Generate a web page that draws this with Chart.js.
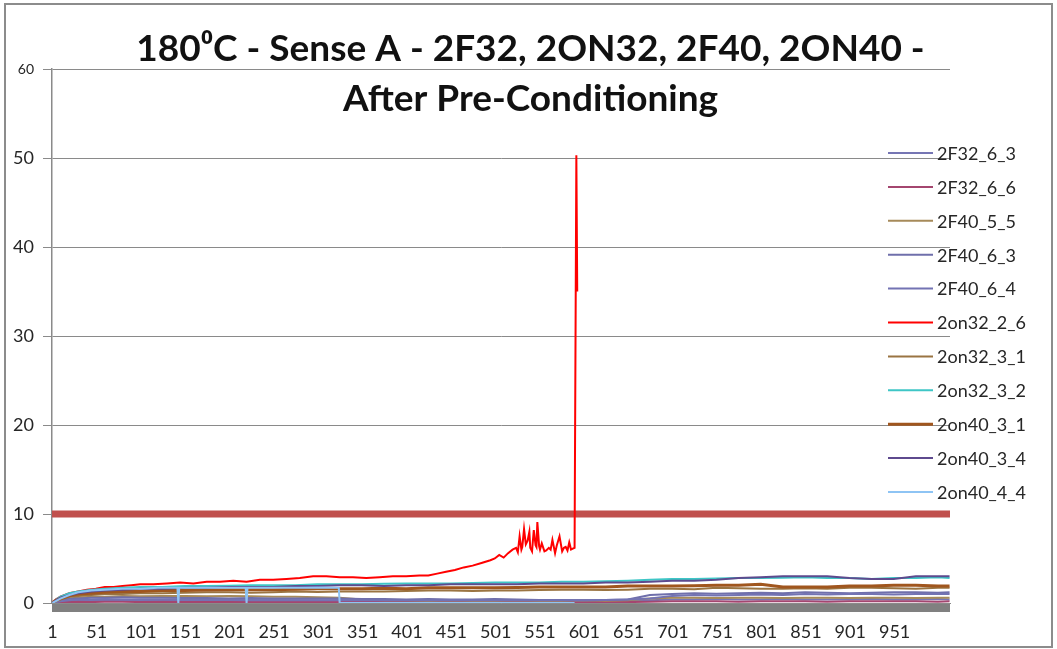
<!DOCTYPE html>
<html>
<head>
<meta charset="utf-8">
<script src="https://cdn.jsdelivr.net/npm/chart.js@4.4.1/dist/chart.umd.min.js"></script>
<style>
  html, body { margin: 0; padding: 0; background: #fff; }
  canvas { display: block; }
</style>
</head>
<body>
<canvas id="senseChart" width="1057" height="649"></canvas>
<script>
// --- data ---
const TITLE_LINES = ['180⁰C - Sense A - 2F32, 2ON32, 2F40, 2ON40 -', 'After Pre-Conditioning'];
const X_TICK_LABELS = [1, 51, 101, 151, 201, 251, 301, 351, 401, 451, 501, 551, 601, 651, 701, 751, 801, 851, 901, 951];
const X_FIRST = 1;
const X_LAST = 1013;
const Y_MIN = 0;
const Y_MAX = 60;
const Y_STEP = 10;
const THRESHOLD = 10;

const SERIES_NAMES = ['2F32_6_3', '2F32_6_6', '2F40_5_5', '2F40_6_3', '2F40_6_4', '2on32_2_6',
                      '2on32_3_1', '2on32_3_2', '2on40_3_1', '2on40_3_4', '2on40_4_4'];
const SERIES_COLORS = ['#7676b4', '#a4466f', '#a68a5a', '#6f6fab', '#7373b3', '#ff0000',
                       '#9a7442', '#3ec6c6', '#a0561e', '#5e4a8e', '#8ec4f4'];
const SERIES_WIDTHS = [2, 2, 2, 2, 2, 2, 2, 2, 3, 2, 2];

// shared sample positions for the low, slowly drifting series
const SAMPLE_X = [1, 5, 10, 20, 30, 45, 60, 80, 100, 125, 150, 175, 200, 225, 250, 275, 300, 325, 350, 375,
                  400, 425, 450, 475, 500, 525, 550, 575, 600, 625, 650, 675, 700, 725, 750, 775, 800, 825, 850, 875,
                  900, 925, 950, 975, 1000, 1013];

const F32_6_3 = [0.0, 0.1, 0.2, 0.25, 0.3, 0.3, 0.35, 0.3, 0.3, 0.35, 0.3, 0.3, 0.3, 0.35, 0.3, 0.3, 0.3, 0.25, 0.25, 0.2,
                 0.25, 0.2, 0.2, 0.25, 0.2, 0.2, 0.2, 0.25, 0.2, 0.2, 0.25, 0.3, 0.4, 0.4, 0.45, 0.4, 0.4, 0.45, 0.4, 0.4,
                 0.4, 0.45, 0.4, 0.4, 0.45, 0.4];
const F32_6_6 = [0.0, 0.05, 0.1, 0.1, 0.15, 0.1, 0.15, 0.15, 0.1, 0.15, 0.1, 0.1, 0.15, 0.1, 0.1, 0.15, 0.1, 0.1, 0.1, 0.15,
                 0.1, 0.1, 0.1, 0.1, 0.15, 0.1, 0.1, 0.1, 0.1, 0.15, 0.1, 0.15, 0.2, 0.2, 0.2, 0.15, 0.2, 0.2, 0.2, 0.15,
                 0.2, 0.2, 0.2, 0.2, 0.15, 0.2];
const F40_5_5 = [0.0, 0.2, 0.3, 0.5, 0.6, 0.7, 0.7, 0.8, 0.75, 0.8, 0.8, 0.75, 0.8, 0.75, 0.7, 0.7, 0.65, 0.6, 0.4, 0.3,
                 0.3, 0.25, 0.3, 0.25, 0.25, 0.3, 0.25, 0.25, 0.3, 0.25, 0.3, 0.5, 0.6, 0.6, 0.55, 0.6, 0.6, 0.55, 0.6, 0.6,
                 0.55, 0.6, 0.6, 0.55, 0.6, 0.6];
const F40_6_3 = [0.0, 0.2, 0.3, 0.5, 0.5, 0.6, 0.6, 0.65, 0.6, 0.6, 0.55, 0.55, 0.5, 0.55, 0.5, 0.5, 0.5, 0.5, 0.45, 0.45,
                 0.4, 0.45, 0.4, 0.4, 0.45, 0.4, 0.35, 0.35, 0.3, 0.35, 0.4, 0.9, 1.0, 1.1, 1.05, 1.1, 1.15, 1.1, 1.2, 1.15,
                 1.1, 1.15, 1.2, 1.2, 1.15, 1.2];
const F40_6_4 = [0.0, 0.1, 0.2, 0.3, 0.4, 0.4, 0.45, 0.4, 0.4, 0.4, 0.4, 0.35, 0.35, 0.3, 0.35, 0.3, 0.3, 0.35, 0.3, 0.3,
                 0.3, 0.3, 0.35, 0.3, 0.3, 0.3, 0.3, 0.3, 0.3, 0.35, 0.4, 0.5, 0.8, 0.9, 0.85, 0.9, 0.95, 0.9, 1.0, 0.95,
                 1.0, 1.0, 0.95, 1.0, 1.0, 1.0];
const ON32_3_1 = [0.0, 0.2, 0.4, 0.7, 0.8, 0.9, 1.0, 1.0, 1.1, 1.1, 1.15, 1.2, 1.2, 1.15, 1.2, 1.3, 1.25, 1.3, 1.3, 1.3,
                  1.35, 1.4, 1.4, 1.35, 1.4, 1.4, 1.45, 1.5, 1.5, 1.45, 1.5, 1.6, 1.6, 1.55, 1.7, 1.65, 1.6, 1.6, 1.65, 1.6,
                  1.7, 1.7, 1.65, 1.6, 1.7, 1.7];
const ON32_3_2 = [0.0, 0.4, 0.7, 1.1, 1.3, 1.5, 1.6, 1.7, 1.8, 1.8, 1.9, 1.9, 1.95, 2.0, 2.0, 2.0, 2.1, 2.1, 2.1, 2.15,
                  2.2, 2.2, 2.2, 2.25, 2.3, 2.3, 2.3, 2.4, 2.4, 2.45, 2.5, 2.6, 2.7, 2.7, 2.75, 2.8, 2.8, 2.85, 2.9, 2.8,
                  2.8, 2.7, 2.8, 2.8, 2.9, 2.8];
const ON40_3_1 = [0.0, 0.3, 0.5, 0.8, 1.0, 1.1, 1.2, 1.3, 1.3, 1.4, 1.4, 1.45, 1.5, 1.5, 1.5, 1.55, 1.6, 1.6, 1.6, 1.65,
                  1.6, 1.7, 1.7, 1.7, 1.7, 1.75, 1.8, 1.8, 1.8, 1.8, 1.9, 1.9, 1.9, 1.95, 2.0, 2.0, 2.1, 1.8, 1.8, 1.8,
                  1.9, 1.9, 2.0, 2.0, 1.9, 1.9];
const ON40_3_4 = [0.0, 0.3, 0.6, 0.9, 1.1, 1.3, 1.4, 1.5, 1.6, 1.6, 1.7, 1.7, 1.8, 1.8, 1.8, 1.9, 1.9, 2.0, 2.0, 1.9,
                  2.0, 2.0, 2.1, 2.1, 2.1, 2.1, 2.2, 2.2, 2.2, 2.3, 2.3, 2.4, 2.5, 2.5, 2.6, 2.8, 2.9, 3.0, 3.0, 3.0,
                  2.8, 2.7, 2.7, 3.0, 3.0, 3.0];

// 2on32_2_6 climbs, gets noisy and ends in one spike
const ON32_2_6_X = [1, 5, 10, 15, 20, 30, 40, 50, 60, 70, 80, 90, 100, 115, 130, 145, 160, 175, 190, 205,
                    220, 235, 250, 265, 280, 295, 310, 325, 340, 355, 370, 385, 400, 415, 425, 435, 445, 455, 465, 475,
                    485, 495, 500, 505, 510, 515, 520, 524, 526, 528, 530, 531, 533, 535, 537, 539, 540, 542, 544, 546,
                    547, 548, 550, 551, 553, 556, 558, 561, 563, 565, 568, 570, 573, 576, 578, 580, 582, 584, 586, 588,
                    590, 592, 593];
const ON32_2_6_Y = [0.1, 0.4, 0.7, 0.9, 1.1, 1.3, 1.5, 1.6, 1.8, 1.8, 1.9, 2.0, 2.1, 2.1, 2.2, 2.3, 2.2, 2.4, 2.4, 2.5,
                    2.4, 2.6, 2.6, 2.7, 2.8, 3.0, 3.0, 2.9, 2.9, 2.8, 2.9, 3.0, 3.0, 3.1, 3.1, 3.3, 3.5, 3.7, 4.0, 4.2,
                    4.5, 4.8, 5.0, 5.4, 5.1, 5.6, 6.0, 6.2, 5.7, 7.5, 6.0, 6.3, 8.3, 6.6, 7.0, 8.0, 6.2, 5.8, 8.2, 6.5,
                    6.3, 9.1, 6.4, 6.0, 6.7, 5.8, 5.9, 6.2, 6.0, 7.1, 5.6, 6.5, 7.5, 5.8, 6.2, 6.3, 5.9, 6.8, 6.0, 6.1,
                    6.2, 50.3, 35.0];

// 2on40_4_4 with two single-sample dropouts and a step down
const ON40_4_4_X = [1, 10, 20, 30, 45, 60, 80, 100, 120, 142, 143, 144, 170, 200, 219, 220, 221, 250, 280, 300,
                    324, 325, 350, 400, 450, 500, 550, 590];
const ON40_4_4_Y = [0.0, 0.5, 0.9, 1.2, 1.4, 1.5, 1.6, 1.6, 1.7, 1.7, 0.0, 1.7, 1.7, 1.7, 1.7, 0.0, 1.7, 1.7, 1.7, 1.75,
                    1.7, 0.0, 0.0, 0.0, 0.0, 0.0, 0.0, 0.0];

const THRESHOLD_X = [X_FIRST - 0.5, X_LAST + 0.5];

// --- helpers ---
const toPoints = (xs, ys) => xs.map((x, i) => ({ x: x, y: ys[i] }));

const seriesData = [
    toPoints(SAMPLE_X, F32_6_3),
    toPoints(SAMPLE_X, F32_6_6),
    toPoints(SAMPLE_X, F40_5_5),
    toPoints(SAMPLE_X, F40_6_3),
    toPoints(SAMPLE_X, F40_6_4),
    toPoints(ON32_2_6_X, ON32_2_6_Y),
    toPoints(SAMPLE_X, ON32_3_1),
    toPoints(SAMPLE_X, ON32_3_2),
    toPoints(SAMPLE_X, ON40_3_1),
    toPoints(SAMPLE_X, ON40_3_4),
    toPoints(ON40_4_4_X, ON40_4_4_Y)
];

const FONT = 'Lato, "Open Sans", sans-serif';
const TEXT_COLOR = '#262626';
const GRID_COLOR = '#8a8a8a';

const datasets = SERIES_NAMES.map((name, i) => ({
    label: name,
    data: seriesData[i],
    borderColor: SERIES_COLORS[i],
    backgroundColor: SERIES_COLORS[i],
    borderWidth: SERIES_WIDTHS[i],
    pointRadius: 0,
    tension: 0,
    fill: false,
    // Excel paints later series over earlier ones
    order: SERIES_NAMES.length - i
}));

datasets.push({
    label: 'limit',
    data: toPoints(THRESHOLD_X, [THRESHOLD, THRESHOLD]),
    borderColor: '#c0504d',
    borderWidth: 7,
    borderCapStyle: 'butt',
    pointRadius: 0,
    fill: false,
    order: 99
});

// frame round the whole picture
const framePlugin = {
    id: 'frame',
    beforeDraw(chart) {
        const ctx = chart.ctx;
        ctx.save();
        ctx.fillStyle = '#fff';
        ctx.fillRect(0, 0, chart.width, chart.height);
        ctx.strokeStyle = '#8c8c8c';
        ctx.lineWidth = 2;
        ctx.strokeRect(5, 4, chart.width - 10, chart.height - 6);
        ctx.restore();
    }
};

// title sits over the top of the plot, like the Excel one
const titlePlugin = {
    id: 'overTitle',
    afterDraw(chart) {
        const ctx = chart.ctx;
        ctx.save();
        ctx.font = 'bold 37px ' + FONT;
        ctx.fillStyle = '#111';
        ctx.textAlign = 'center';
        ctx.textBaseline = 'alphabetic';
        const cx = chart.width / 2 + 2;
        ctx.fillText(TITLE_LINES[0], cx, 61);
        ctx.fillText(TITLE_LINES[1], cx, 111);
        ctx.restore();
    }
};

// legend drawn inside the plot area on the right, no box
const legendPlugin = {
    id: 'overLegend',
    afterDraw(chart) {
        const ctx = chart.ctx;
        ctx.save();
        ctx.font = '18px ' + FONT;
        ctx.textBaseline = 'middle';
        ctx.textAlign = 'left';
        SERIES_NAMES.forEach((name, i) => {
            const y = 153 + i * 33.9;
            ctx.strokeStyle = SERIES_COLORS[i];
            ctx.lineWidth = SERIES_WIDTHS[i] > 2 ? 3 : 2;
            ctx.beginPath();
            ctx.moveTo(888, y);
            ctx.lineTo(933, y);
            ctx.stroke();
            ctx.fillStyle = TEXT_COLOR;
            ctx.fillText(name, 937, y + 1);
        });
        ctx.restore();
    }
};

new Chart(document.getElementById('senseChart'), {
    type: 'line',
    data: { datasets: datasets },
    options: {
        responsive: false,
        animation: false,
        events: [],
        layout: { padding: { top: 69, right: 107, bottom: 0, left: 0 } },
        plugins: {
            legend: { display: false },
            title: { display: false },
            tooltip: { enabled: false }
        },
        scales: {
            x: {
                type: 'linear',
                min: X_FIRST - 0.5,
                max: X_LAST + 0.5,
                // one tick mark per category, the marks run together into a grey band
                afterBuildTicks: axis => {
                    const ticks = [];
                    for (let v = X_FIRST; v <= X_LAST; v++) ticks.push({ value: v });
                    axis.ticks = ticks;
                },
                afterFit: axis => { axis.height = 46; },
                ticks: {
                    autoSkip: false,
                    maxRotation: 0,
                    padding: 9,
                    color: TEXT_COLOR,
                    font: { family: FONT, size: 18 },
                    callback: v => X_TICK_LABELS.includes(v) ? String(v) : ''
                },
                grid: { drawOnChartArea: false, tickLength: 9, color: '#808080', lineWidth: 1 },
                border: { color: GRID_COLOR, width: 1 }
            },
            y: {
                min: Y_MIN,
                max: Y_MAX,
                afterFit: axis => { axis.width = 52; },
                ticks: {
                    stepSize: Y_STEP,
                    padding: 9,
                    color: TEXT_COLOR,
                    font: ctx => ({ family: FONT, size: ctx.tick && ctx.tick.value === Y_MAX ? 14 : 18 })
                },
                grid: { color: GRID_COLOR, lineWidth: 1, tickLength: 9 },
                border: { color: GRID_COLOR, width: 1.5 }
            }
        }
    },
    plugins: [framePlugin, titlePlugin, legendPlugin]
});
</script>
</body>
</html>
